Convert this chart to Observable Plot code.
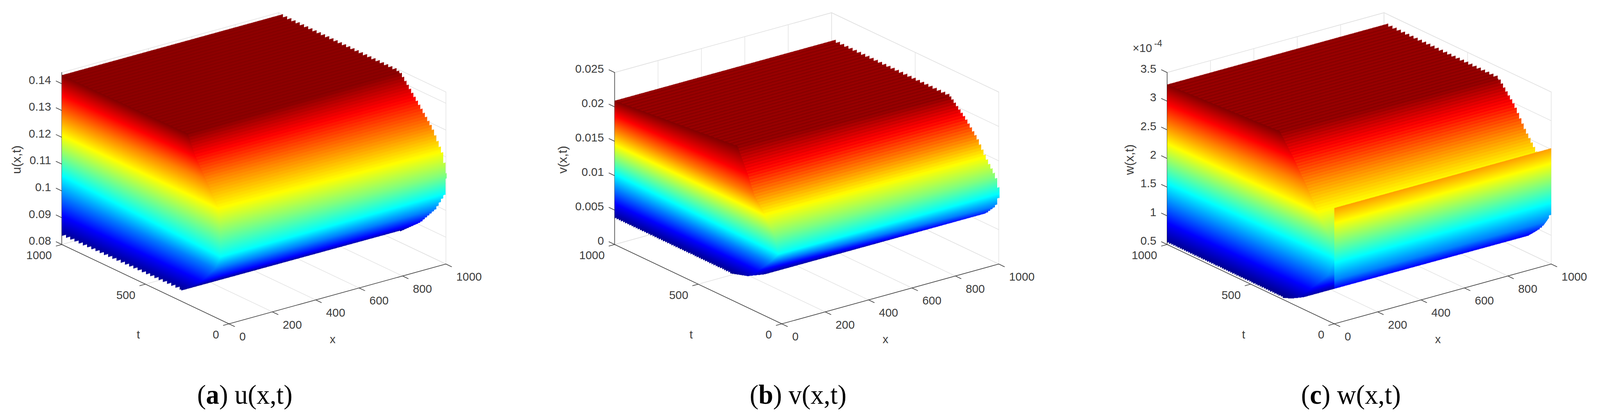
<!DOCTYPE html>
<html><head><meta charset="utf-8">
<script src="https://cdn.jsdelivr.net/npm/d3@7"></script>
<script src="https://cdn.jsdelivr.net/npm/@observablehq/plot@0.6"></script>
<style>
html,body{margin:0;padding:0;background:#fff;overflow:hidden}
#row{display:flex;width:4182px;height:1072px;transform-origin:0 0}
.col{position:relative;width:1394px;height:1072px;flex:none}
.col svg{display:block;background:#fff}
.col svg image{filter:blur(.7px)}
.cap{position:absolute;white-space:nowrap;transform:translateX(-50%);font-family:"Liberation Serif",serif;font-size:69px;line-height:80px;top:970px;color:#000}
</style></head><body><div id="row"></div>
<script>
// axis ticks
const xTicks=[0,200,400,600,800,1000];
const tTicks=[0,500,1000];
const uTicks=[0.08,0.09,0.10,0.11,0.12,0.13,0.14];
const uTickLabels=["0.08","0.09","0.1","0.11","0.12","0.13","0.14"];
const vTicks=[0,0.005,0.01,0.015,0.02,0.025];
const vTickLabels=["0","0.005","0.01","0.015","0.02","0.025"];
const wTicks=[0.5,1,1.5,2,2.5,3,3.5];
const wTickLabels=["0.5","1","1.5","2","2.5","3","3.5"];

// surface u: level, corner position of each level, and t at the x=1000 edge
const uLevel  =[0.0832,0.0907,0.0982,0.1057,0.1132,0.1207,0.1282,0.1357,0.1432];
const uCornerX=[13,7,0,-36,-12,8,25,12,8];
const uCornerT=[302,172,83,4,36,71,170,215,256];
const uEdgeT  =[290,160,70,12,0,30,90,184,280];
const uBottomX=[0,13,1000];
const uBottomT=[1000,302,275];
const uBottomZ=[0.0832,0.0832,0.0843];

// surface v
const vLevel  =[0.0038,0.0059,0.00805,0.0102,0.01235,0.0145,0.01665,0.0188,0.0209];
const vCornerX=[4,6,3,-13,1,6,5,26,80];
const vCornerT=[219,151,75,3,43,106,170,238,369];
const vEdgeT  =[220,100,26,0,25,85,135,208,296];
const vBottomX=[0,0,33,94,1000];
const vBottomT=[1000,306,247,224,75];
const vBottomZ=[0.0038,0.0038,0.0038,0.0038,0.00652];

// surface w (units of 1e-4), with a front sheet at small t
const wLevel  =[0.53,0.875,1.22,1.565,1.91,2.255,2.6,2.945,3.29];
const wCornerX=[12,12,23,28,31,20,41,41,42];
const wCornerT=[256,159,70,36,71,122,227,298,381];
const wEdgeT  =[250,110,20,0,0,80,160,225,320];
const wBottomX=[0,0,20,64,1000,1000,1000];
const wBottomT=[1000,306,282,266,139,57,0];
const wBottomZ=[0.53,0.53,0.53,0.53,0.8,1.05,1.36];
const wFrontLevel=[0.53,0.875,1.22,1.565,2.52];
const wFrontT    =[250,110,20,0,0];

const jetStops=[0,0.125,0.375,0.625,0.875,1];
const jetColors=["#00008f","#0000ff","#00ffff","#ffff00","#ff0000","#800000"];

const XV=[567,-153], TV=[-437,-203];   // screen vectors of the x and t axes over their full length

function panel(o){
  const proj=(x,t,z)=>[o.O[0]+x/1000*XV[0]+t/1000*TV[0], o.O[1]+x/1000*XV[1]+t/1000*TV[1]-(z-o.z0)*o.K];
  const n=o.level.length, zMin=o.level[0], zMax=o.level[n-1];
  const L=o.level.map(z=>proj(0,1000,z)), V=o.level.map((z,i)=>proj(o.cornerX[i],o.cornerT[i],z)), R=o.level.map((z,i)=>proj(1000,o.edgeT[i],z));
  const Lx=L[0][0];
  const lerp=(A,k,s)=>{let i=Math.min(Math.floor(s),n-2);const f=s-i;return A[i][k]+(A[i+1][k]-A[i][k])*f;};
  const yAt=(s,sx)=>{
    const vx=lerp(V,0,s),vy=lerp(V,1,s);
    if(sx<vx){const ly=lerp(L,1,s);return ly+(vy-ly)*(sx-Lx)/(vx-Lx);}
    const rx=lerp(R,0,s),ry=lerp(R,1,s);return vy+(ry-vy)*(sx-vx)/(rx-vx);
  };
  const zAt=s=>{let i=Math.min(Math.floor(s),n-2);return o.level[i]+(o.level[i+1]-o.level[i])*(s-i);};
  // bottom outline
  const B=o.bottomX.map((x,i)=>proj(x,o.bottomT[i],o.bottomZ[i]));
  const bx=B.map(d=>d[0]), by=B.map(d=>d[1]);
  const baseB=d3.scaleLinear(bx,by);
  const slope=XV[1]/XV[0];
  const bottomOK=(sx,sy)=>{
    if(sx<bx[0]) return false;
    if(sx>bx[bx.length-1]) return true;
    if(sx<bx[1]){
      const q=Math.floor((sx-bx[0])/o.stepB)*o.stepB+bx[0];
      return sy<=baseB(q)+(sx-q)*slope;
    }
    return sy<=baseB(sx);
  };
  // plateau outline
  const back0=proj(0,1000,zMax), back1=proj(1000,1000,zMax), rtop=proj(1000,o.edgeT[n-1],zMax);
  const backLine=d3.scaleLinear([back0[0],back1[0]],[back0[1],back1[1]]);
  const topLine=d3.scaleLinear([back1[0],rtop[0]],[back1[1],rtop[1]]);
  const stepT=11;
  const span=zMax-zMin;
  const stripe=(sx,sy)=>{const w=(sy-slope*sx)/8;return w-Math.floor(w);};
  // front sheet
  let fy=null,fz=null,ft=null,seam=0,mF=0;
  if(o.frontLevel){mF=o.frontLevel.length;
    fz=o.frontLevel;ft=o.frontT;seam=proj(0,0,o.z0)[0];
    fy=(s,sx)=>{let i=Math.min(Math.floor(s),mF-2);const f=s-i;const z=fz[i]+(fz[i+1]-fz[i])*f,t=ft[i]+(ft[i+1]-ft[i])*f;
      const a=(sx-o.O[0]-t/1000*TV[0])/XV[0];return o.O[1]+a*XV[1]+t/1000*TV[1]-(z-o.z0)*o.K;};
  }
  const quant=v=>Math.ceil(v/6)*6;
  const fill=(sx,sy)=>{
    if(sx<Lx) return NaN;
    if(sy>o.O[1]) return NaN;
    const yTop=yAt(n-1,sx);
    if(!bottomOK(sx,sy)&&sy>yTop) return NaN;
    if(fy&&sx>=seam&&sy>=fy(mF-1,sx)){
      let lo=0,hi=mF-1;
      for(let k=0;k<12;k++){const m=(lo+hi)/2;if(fy(m,sx)>sy) lo=m;else hi=m;}
      const s=(lo+hi)/2;let i=Math.min(Math.floor(s),mF-2);const f=s-i;
      const t=ft[i]+(ft[i+1]-ft[i])*f;
      if(sx>quant(o.O[0]+XV[0]+t/1000*TV[0])) return NaN;
      return fz[i]+(fz[i+1]-fz[i])*f;
    }
    if(sy<yTop){
      if(sx>rtop[0]||sx<Lx) return NaN;
      if(sy<backLine(sx)) return NaN;
      if(sx>back1[0]){
        const q=Math.floor((sx-back1[0])/stepT)*stepT+back1[0];
        if(sy<topLine(q)+(sx-q)*slope) return NaN;
      }
      return zMax-span*o.amp*stripe(sx,sy);
    }
    let lo=0,hi=n-1;
    for(let k=0;k<12;k++){const m=(lo+hi)/2;if(yAt(m,sx)>sy) lo=m;else hi=m;}
    const s=(lo+hi)/2;
    if(sx>quant(lerp(R,0,s))) return NaN;
    let z=zAt(s);
    if(sx>lerp(V,0,s)){
      const fade=Math.max(0,Math.min(1,(s/(n-1)-.55)/.3));
      z-=span*o.amp*fade*stripe(sx,sy);
    }
    return z;
  };
  // grid and axes
  const G=[],A=[];let id=0;
  const seg=(arr,p,q)=>{id++;arr.push({id,sx:p[0],sy:p[1]},{id,sx:q[0],sy:q[1]});};
  const z0=o.z0,zT=o.zTop;
  for(const x of xTicks){seg(G,proj(x,0,z0),proj(x,1000,z0));seg(G,proj(x,1000,z0),proj(x,1000,zT));}
  for(const t of tTicks){seg(G,proj(0,t,z0),proj(1000,t,z0));seg(G,proj(1000,t,z0),proj(1000,t,zT));}
  for(const z of o.ticks){seg(G,proj(0,1000,z),proj(1000,1000,z));seg(G,proj(1000,0,z),proj(1000,1000,z));}
  seg(G,proj(0,1000,zT),proj(1000,1000,zT));seg(G,proj(1000,1000,zT),proj(1000,0,zT));
  seg(A,proj(0,1000,z0),proj(0,1000,zT));seg(A,proj(0,1000,z0),proj(0,0,z0));seg(A,proj(0,0,z0),proj(1000,0,z0));
  for(const z of o.ticks) seg(A,proj(0,1000,z),proj(0,1034,z));
  for(const t of tTicks) seg(A,proj(0,t,z0),proj(-26,t,z0));
  for(const x of xTicks) seg(A,proj(x,0,z0),proj(x,-34,z0));

  const font={fontFamily:"Liberation Sans",fontSize:30,fill:"#3c3c3c"};
  const zL=o.ticks.map((z,i)=>({p:proj(0,1000,z),s:o.tickLabels[i]}));
  const tL=tTicks.map(t=>({p:proj(0,t,z0),s:String(t)}));
  const xL=xTicks.map(x=>({p:proj(x,0,z0),s:String(x)}));
  const px=d=>d.p[0],py=d=>d.p[1];
  const marks=[
    Plot.line(G,{x:"sx",y:"sy",z:"id",stroke:"#e0e0e0",strokeWidth:1.4}),
    Plot.line(A,{x:"sx",y:"sy",z:"id",stroke:"#3c3c3c",strokeWidth:1.6}),
    Plot.raster({x1:Lx-1,x2:o.O[0]+XV[0]+2,y1:0,y2:o.O[1],pixelSize:1,fill,imageRendering:"auto"}),
    Plot.text(zL,{x:px,y:py,text:"s",textAnchor:"end",dx:-28,dy:-9,...font}),
    Plot.text(tL,{x:px,y:py,text:"s",textAnchor:"end",dx:-26,dy:28,...font}),
    Plot.text(xL,{x:px,y:py,text:"s",textAnchor:"start",dx:27,dy:33,...font}),
    Plot.text([o.labelT],{x:d=>proj(0,1000,z0)[0]+200,y:d=>proj(0,1000,z0)[1]+231,text:d=>d,...font}),
    Plot.text([o.labelX],{x:d=>proj(0,0,z0)[0]+271,y:d=>proj(0,0,z0)[1]+40,text:d=>d,...font}),
    Plot.text([o.labelZ],{x:d=>proj(0,1000,z0)[0]+o.labelZdx,y:d=>408,text:d=>d,rotate:-90,...font,fontSize:32}),
  ];
  if(o.scaleNote){
    const p=proj(0,1000,zT);
    marks.push(Plot.text(["×10"],{x:d=>p[0],y:d=>p[1],text:d=>d,textAnchor:"start",dx:-90,dy:-62,...font}));
    marks.push(Plot.text([o.scaleNote],{x:d=>p[0],y:d=>p[1],text:d=>d,textAnchor:"start",dx:-34,dy:-74,...font,fontSize:24}));
  }
  const svg=Plot.plot({
    width:1394,height:960,margin:0,
    x:{domain:[0,1394],axis:null},y:{domain:[960,0],axis:null},
    color:{type:"linear",domain:jetStops.map(f=>zMin+f*span),range:jetColors,clamp:true,interpolate:"rgb"},
    style:{background:"#fff",overflow:"visible"},
    marks
  });
  const col=document.createElement("div");col.className="col";col.append(svg);
  const cap=document.createElement("div");cap.className="cap";cap.style.left=o.capX+"px";
  cap.innerHTML="("+"<b>"+o.capLetter+"</b>) "+o.capText;
  col.append(cap);
  document.getElementById("row").append(col);
}

panel({O:[598,828],z0:0.08,zTop:0.1442,K:6855,ticks:uTicks,tickLabels:uTickLabels,
  level:uLevel,cornerX:uCornerX,cornerT:uCornerT,edgeT:uEdgeT,bottomX:uBottomX,bottomT:uBottomT,bottomZ:uBottomZ,
  stepB:11,amp:0.02,labelT:"t",labelX:"x",labelZ:"u(x,t)",labelZdx:-118,capX:640,capLetter:"a",capText:"u(x,t)"});
panel({O:[649,828],z0:0,zTop:0.025,K:17600,ticks:vTicks,tickLabels:vTickLabels,
  level:vLevel,cornerX:vCornerX,cornerT:vCornerT,edgeT:vEdgeT,bottomX:vBottomX,bottomT:vBottomT,bottomZ:vBottomZ,
  stepB:5.5,amp:0.035,labelT:"t",labelX:"x",labelZ:"v(x,t)",labelZdx:-135,capX:692,capLetter:"b",capText:"v(x,t)"});
panel({O:[699,828],z0:0.5,zTop:3.5,K:146.67,ticks:wTicks,tickLabels:wTickLabels,
  level:wLevel,cornerX:wCornerX,cornerT:wCornerT,edgeT:wEdgeT,bottomX:wBottomX,bottomT:wBottomT,bottomZ:wBottomZ,
  frontLevel:wFrontLevel,frontT:wFrontT,
  stepB:5.5,amp:0.035,labelT:"t",labelX:"x",labelZ:"w(x,t)",labelZdx:-98,scaleNote:"-4",capX:743,capLetter:"c",capText:"w(x,t)"});
// the window may be narrower than the 4182 px figure: fit the whole figure in it
const fit=Math.min(1,window.innerWidth/4182);
document.getElementById("row").style.transform="scaleX("+fit+")";
</script></body></html>
